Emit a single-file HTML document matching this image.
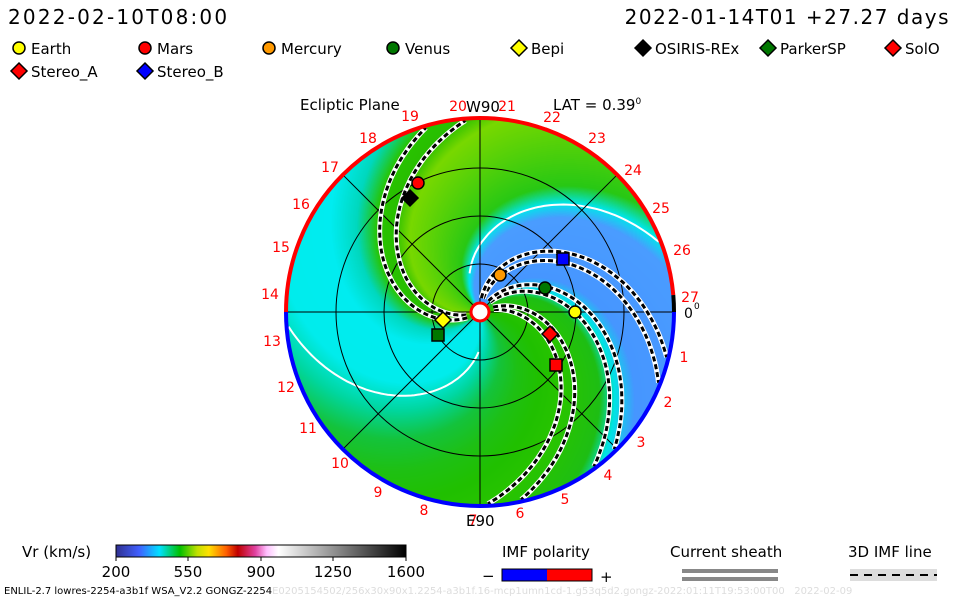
<!DOCTYPE html>
<html><head><meta charset="utf-8"><style>
body{margin:0;background:#fff;width:960px;height:600px;overflow:hidden;position:relative;font-family:"DejaVu Sans","Liberation Sans",sans-serif;}
.t{position:absolute;white-space:nowrap;color:#000;}
canvas{position:absolute;left:0;top:0;}
svg{position:absolute;left:0;top:0;}
</style></head><body>
<canvas id="c" width="960" height="600"></canvas>
<svg id="s" width="960" height="600" font-family="DejaVu Sans, Liberation Sans, sans-serif"></svg>
<div class="t" style="left:8px;top:5px;font-size:20px;letter-spacing:2.2px;">2022-02-10T08:00</div>
<div class="t" style="right:10px;top:5px;font-size:20px;letter-spacing:1.5px;">2022-01-14T01 +27.27 days</div>
<div class="t" style="left:300px;top:96px;font-size:15px;">Ecliptic Plane</div>
<div class="t" style="left:553px;top:96px;font-size:15px;">LAT = 0.39<sup style="font-size:9px">0</sup></div>
<div class="t" style="left:22px;top:543px;font-size:15px;">Vr (km/s)</div>
<div class="t" style="left:502px;top:543px;font-size:15px;">IMF polarity</div>
<div class="t" style="left:670px;top:543px;font-size:15px;">Current sheath</div>
<div class="t" style="left:848px;top:543px;font-size:15px;">3D IMF line</div>
<div class="t" style="left:4px;top:586px;font-size:10px;">ENLIL-2.7 lowres-2254-a3b1f WSA_V2.2 GONGZ-2254<span style="color:#ddd">E0205154502/256x30x90x1.2254-a3b1f.16-mcp1umn1cd-1.g53q5d2.gongz-2022:01:11T19:53:00T00 &nbsp; 2022-02-09</span></div>
<script>
const cx=480,cy=312,R=194,K=0.55;
const cv=document.getElementById('c').getContext('2d');
const stops=[[0,[32,192,0]],[20,[40,196,0]],[45,[30,190,20]],[55,[0,228,228]],[68,[70,150,255]],[118,[74,156,255]],[128,[0,230,235]],[140,[40,200,20]],[190,[120,216,0]],[202,[40,190,0]],[214,[40,196,0]],[228,[0,216,190]],[245,[0,236,240]],[280,[0,236,236]],[300,[0,215,160]],[320,[20,195,60]],[340,[30,192,20]],[360,[32,192,0]]];
function col(p){p=((p%360)+360)%360;for(let i=0;i<stops.length-1;i++){const a=stops[i],b=stops[i+1];if(p>=a[0]&&p<=b[0]){const f=(p-a[0])/(b[0]-a[0]);return a[1].map((v,j)=>Math.round(v+(b[1][j]-v)*f));}}return [0,0,0];}
const img=cv.createImageData(400,400);
for(let y=0;y<400;y++)for(let x=0;x<400;x++){const dx=x-200,dy=200-y;const r=Math.hypot(dx,dy);const o=(y*400+x)*4;if(r>R){img.data[o+3]=0;continue;}
let a=Math.atan2(dy,dx)*180/Math.PI;const c=col(a+K*r);img.data[o]=c[0];img.data[o+1]=c[1];img.data[o+2]=c[2];img.data[o+3]=255;}
cv.putImageData(img,cx-200,cy-200);
const S=document.getElementById('s');let h='';
function spiral(ph,r0){let pts=[];for(let r=r0;r<=R-1;r+=2){const a=(ph-K*r)*Math.PI/180;pts.push((cx+r*Math.cos(a)).toFixed(1)+','+(cy-r*Math.sin(a)).toFixed(1));}return pts.join(' ');}
[127,290].forEach(p=>{h+=`<polyline points="${spiral(p,40)}" fill="none" stroke="#fff" stroke-width="2"/>`;});
[48,96,144].forEach(r=>h+=`<circle cx="${cx}" cy="${cy}" r="${r}" fill="none" stroke="#000" stroke-width="1"/>`);
for(let k=0;k<4;k++){const a=k*Math.PI/4;h+=`<line x1="${cx-R*Math.cos(a)}" y1="${cy-R*Math.sin(a)}" x2="${cx+R*Math.cos(a)}" y2="${cy+R*Math.sin(a)}" stroke="#000" stroke-width="1"/>`;}
[18,28,52,60,84,92,200,212].forEach(p=>{const pts=spiral(p,14);h+=`<polyline points="${pts}" fill="none" stroke="#fff" stroke-width="5"/><polyline points="${pts}" fill="none" stroke="#000" stroke-width="3" stroke-dasharray="5,3"/>`;});
// rim
const ea=5*Math.PI/180, ex=(cx+R*Math.cos(ea)).toFixed(1), ey=(cy-R*Math.sin(ea)).toFixed(1);
h+=`<path d="M${cx-R} ${cy} A${R} ${R} 0 0 1 ${cx} ${cy-R} A${R} ${R} 0 0 1 ${ex} ${ey}" fill="none" stroke="#f00" stroke-width="4"/>`;
h+=`<path d="M${ex} ${ey} A${R} ${R} 0 0 1 ${cx+R} ${cy}" fill="none" stroke="#000" stroke-width="4"/>`;
h+=`<path d="M${cx+R} ${cy} A${R} ${R} 0 0 1 ${cx} ${cy+R} A${R} ${R} 0 0 1 ${cx-R} ${cy}" fill="none" stroke="#00f" stroke-width="4"/>`;
h+=`<circle cx="${cx}" cy="${cy}" r="9" fill="#fff" stroke="#f00" stroke-width="3"/>`;
const L=[[19,410,116],[20,458,106],[21,507,106],[22,552,117],[23,597,138],[24,633,170],[25,661,208],[26,682,250],[27,690,297],[1,684,357],[2,668,402],[3,641,442],[4,608,475],[5,565,499],[6,520,513],[7,473,520],[8,424,510],[9,378,492],[10,340,463],[11,308,428],[12,286,387],[13,272,341],[14,270,294],[15,281,247],[16,301,204],[17,330,167],[18,368,138]];
L.forEach(l=>h+=`<text x="${l[1]}" y="${l[2]+5}" font-size="14" fill="#f00" text-anchor="middle">${l[0]}</text>`);
h+=`<text x="684" y="318" font-size="14">0</text><text x="694" y="309" font-size="9">0</text>`;
h+=`<text x="466" y="112" font-size="15">W90</text><text x="466" y="526" font-size="15">E90</text>`;
function circ(x,y,c){return `<circle cx="${x}" cy="${y}" r="6" fill="${c}" stroke="#000" stroke-width="1.5"/>`;}
function sq(x,y,c){return `<rect x="${x-6}" y="${y-6}" width="12" height="12" fill="${c}" stroke="#000" stroke-width="1.5"/>`;}
function dia(x,y,c){return `<polygon points="${x},${y-8} ${x+8},${y} ${x},${y+8} ${x-8},${y}" fill="${c}" stroke="#000" stroke-width="1.5"/>`;}
h+=circ(575,312,'#ff0')+circ(418,183,'#f00')+circ(500,275,'#f90')+circ(545,288,'#070')+dia(443,320,'#ff0')+dia(410,198,'#000')+sq(438,335,'#070')+dia(550,334,'#f00')+sq(556,365,'#f00')+sq(563,259,'#00f');
const lg=[[19,48,'c','#ff0','Earth'],[145,48,'c','#f00','Mars'],[269,48,'c','#f90','Mercury'],[393,48,'c','#070','Venus'],[519,48,'d','#ff0','Bepi'],[643,48,'d','#000','OSIRIS-REx'],[768,48,'d','#070','ParkerSP'],[893,48,'d','#f00','SolO'],[19,71,'d','#f00','Stereo_A'],[145,71,'d','#00f','Stereo_B']];
lg.forEach(g=>{h+=g[2]=='c'?circ(g[0],g[1],g[3]):dia(g[0],g[1],g[3]);h+=`<text x="${g[0]+12}" y="${g[1]+6}" font-size="15">${g[4]}</text>`;});
h+=`<defs><linearGradient id="g"><stop offset="0" stop-color="#303090"/><stop offset=".08" stop-color="#4060ff"/><stop offset=".15" stop-color="#00e0ff"/><stop offset=".22" stop-color="#00c000"/><stop offset=".28" stop-color="#c0e000"/><stop offset=".32" stop-color="#ffe000"/><stop offset=".38" stop-color="#ff6000"/><stop offset=".42" stop-color="#c00000"/><stop offset=".48" stop-color="#e040a0"/><stop offset=".52" stop-color="#ffc0ff"/><stop offset=".56" stop-color="#fff"/><stop offset="1" stop-color="#000"/></linearGradient></defs>`;
h+=`<rect x="116" y="545" width="290" height="12" fill="url(#g)" stroke="#000"/>`;
[[116,'200'],[188,'550'],[261,'900'],[333,'1250'],[406,'1600']].forEach(t=>{h+=`<line x1="${t[0]}" y1="557" x2="${t[0]}" y2="561" stroke="#000"/><text x="${t[0]}" y="577" font-size="15" text-anchor="middle">${t[1]}</text>`;});
h+=`<rect x="502" y="569" width="45" height="12" fill="#00f"/><rect x="547" y="569" width="45" height="12" fill="#f00"/><rect x="502" y="569" width="90" height="12" fill="none" stroke="#000"/>`;
h+=`<text x="482" y="581" font-size="15">−</text><text x="600" y="582" font-size="15">+</text>`;
h+=`<rect x="682" y="569" width="96" height="4" fill="#888"/><rect x="682" y="577" width="96" height="4" fill="#888"/>`;
h+=`<rect x="850" y="569" width="87" height="12" fill="#ddd"/><line x1="850" y1="575" x2="937" y2="575" stroke="#000" stroke-width="2" stroke-dasharray="8,6"/>`;
S.innerHTML=h;
</script>
</body></html>
